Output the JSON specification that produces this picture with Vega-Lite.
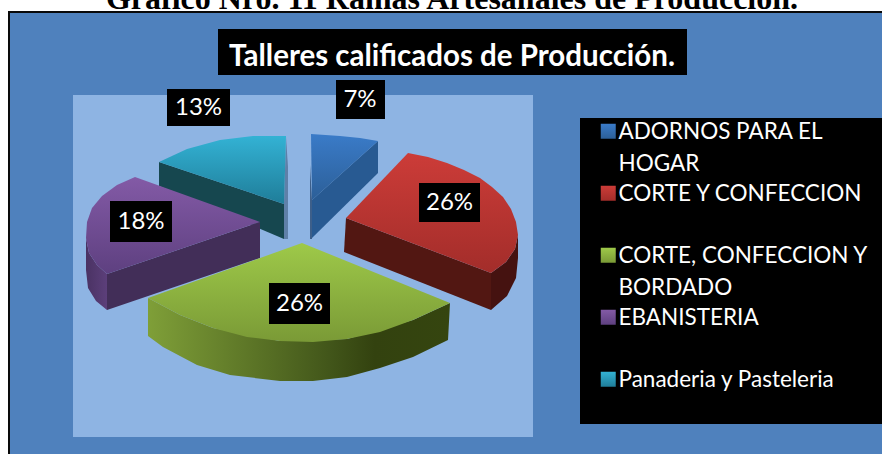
{"$schema":"https://vega.github.io/schema/vega-lite/v6.json","autosize":{"type":"fit","contains":"padding"},"width":882,"height":454,"padding":0,"background":"white","config":{"view":{"stroke":null}},
"resolve":{"scale":{"fill":"independent"}},
"datasets":{
"slices":[
{"categoria":"ADORNOS PARA EL HOGAR","pct":0.07,"lx":360,"ly":100,"x0":336,"x1":385,"y0":80,"y1":119},
{"categoria":"CORTE Y CONFECCION","pct":0.26,"lx":449.5,"ly":203,"x0":419,"x1":480,"y0":183,"y1":222},
{"categoria":"CORTE, CONFECCION Y BORDADO","pct":0.26,"lx":299.5,"ly":304,"x0":269,"x1":330,"y0":283,"y1":324},
{"categoria":"EBANISTERIA","pct":0.18,"lx":141,"ly":222,"x0":110,"x1":172,"y0":201,"y1":242},
{"categoria":"Panaderia y Pasteleria","pct":0.13,"lx":198.5,"ly":108,"x0":167,"x1":230,"y0":89,"y1":126}],
"tops":[
{"c":"ADORNOS PARA EL HOGAR","i":0,"x":311,"y":134},{"c":"ADORNOS PARA EL HOGAR","i":1,"x":340,"y":136},{"c":"ADORNOS PARA EL HOGAR","i":2,"x":360,"y":138},{"c":"ADORNOS PARA EL HOGAR","i":3,"x":378,"y":141},{"c":"ADORNOS PARA EL HOGAR","i":4,"x":312,"y":200},
{"c":"CORTE Y CONFECCION","i":0,"x":408,"y":153},{"c":"CORTE Y CONFECCION","i":1,"x":428,"y":157},{"c":"CORTE Y CONFECCION","i":2,"x":447,"y":163},{"c":"CORTE Y CONFECCION","i":3,"x":464,"y":170},{"c":"CORTE Y CONFECCION","i":4,"x":480,"y":178},{"c":"CORTE Y CONFECCION","i":5,"x":492,"y":187},{"c":"CORTE Y CONFECCION","i":6,"x":503,"y":197},{"c":"CORTE Y CONFECCION","i":7,"x":511,"y":209},{"c":"CORTE Y CONFECCION","i":8,"x":516,"y":222},{"c":"CORTE Y CONFECCION","i":9,"x":518,"y":235},{"c":"CORTE Y CONFECCION","i":10,"x":515,"y":249},{"c":"CORTE Y CONFECCION","i":11,"x":506,"y":262},{"c":"CORTE Y CONFECCION","i":12,"x":491,"y":273},{"c":"CORTE Y CONFECCION","i":13,"x":346,"y":218},
{"c":"CORTE, CONFECCION Y BORDADO","i":0,"x":302,"y":243},{"c":"CORTE, CONFECCION Y BORDADO","i":1,"x":450,"y":303},{"c":"CORTE, CONFECCION Y BORDADO","i":2,"x":413,"y":320},{"c":"CORTE, CONFECCION Y BORDADO","i":3,"x":380,"y":332},{"c":"CORTE, CONFECCION Y BORDADO","i":4,"x":347,"y":339},{"c":"CORTE, CONFECCION Y BORDADO","i":5,"x":313,"y":342},{"c":"CORTE, CONFECCION Y BORDADO","i":6,"x":280,"y":341},{"c":"CORTE, CONFECCION Y BORDADO","i":7,"x":247,"y":337},{"c":"CORTE, CONFECCION Y BORDADO","i":8,"x":213,"y":328},{"c":"CORTE, CONFECCION Y BORDADO","i":9,"x":180,"y":315},{"c":"CORTE, CONFECCION Y BORDADO","i":10,"x":148,"y":298},
{"c":"EBANISTERIA","i":0,"x":135,"y":177},{"c":"EBANISTERIA","i":1,"x":260,"y":222},{"c":"EBANISTERIA","i":2,"x":107,"y":274},{"c":"EBANISTERIA","i":3,"x":97,"y":265},{"c":"EBANISTERIA","i":4,"x":89,"y":253},{"c":"EBANISTERIA","i":5,"x":86,"y":238},{"c":"EBANISTERIA","i":6,"x":87,"y":222},{"c":"EBANISTERIA","i":7,"x":92,"y":208},{"c":"EBANISTERIA","i":8,"x":102,"y":196},{"c":"EBANISTERIA","i":9,"x":117,"y":185},
{"c":"Panaderia y Pasteleria","i":0,"x":159,"y":162},{"c":"Panaderia y Pasteleria","i":1,"x":187,"y":149},{"c":"Panaderia y Pasteleria","i":2,"x":220,"y":140},{"c":"Panaderia y Pasteleria","i":3,"x":253,"y":136},{"c":"Panaderia y Pasteleria","i":4,"x":286,"y":136},{"c":"Panaderia y Pasteleria","i":5,"x":284,"y":204}],
"sides":[
{"p":"cs","i":0,"x":286,"y":137},{"p":"cs","i":1,"x":288,"y":167},{"p":"cs","i":2,"x":288,"y":239},{"p":"cs","i":3,"x":284,"y":239},{"p":"cs","i":4,"x":284,"y":204},
{"p":"bs","i":0,"x":310,"y":165},{"p":"bs","i":1,"x":312,"y":200},{"p":"bs","i":2,"x":312,"y":239},{"p":"bs","i":3,"x":310,"y":239},
{"p":"c","i":0,"x":159,"y":162},{"p":"c","i":1,"x":284,"y":204},{"p":"c","i":2,"x":284,"y":239},{"p":"c","i":3,"x":159,"y":186},
{"p":"b","i":0,"x":312,"y":200},{"p":"b","i":1,"x":378,"y":141},{"p":"b","i":2,"x":378,"y":173},{"p":"b","i":3,"x":312,"y":238},
{"p":"r","i":0,"x":346,"y":218},{"p":"r","i":1,"x":491,"y":273},{"p":"r","i":2,"x":491,"y":310},{"p":"r","i":3,"x":344,"y":252},
{"p":"ro","i":0,"x":491,"y":273},{"p":"ro","i":1,"x":506,"y":262},{"p":"ro","i":2,"x":515,"y":249},{"p":"ro","i":3,"x":518,"y":235},{"p":"ro","i":4,"x":518,"y":258},{"p":"ro","i":5,"x":516,"y":278},{"p":"ro","i":6,"x":507,"y":296},{"p":"ro","i":7,"x":491,"y":310},
{"p":"p","i":0,"x":107,"y":274},{"p":"p","i":1,"x":260,"y":222},{"p":"p","i":2,"x":260,"y":258},{"p":"p","i":3,"x":107,"y":310},
{"p":"po","i":0,"x":86,"y":238},{"p":"po","i":1,"x":89,"y":253},{"p":"po","i":2,"x":97,"y":265},{"p":"po","i":3,"x":107,"y":274},{"p":"po","i":4,"x":107,"y":310},{"p":"po","i":5,"x":96,"y":301},{"p":"po","i":6,"x":88,"y":288},{"p":"po","i":7,"x":86,"y":270},
{"p":"g","i":0,"x":148,"y":298},{"p":"g","i":1,"x":180,"y":315},{"p":"g","i":2,"x":213,"y":328},{"p":"g","i":3,"x":280,"y":341},{"p":"g","i":4,"x":347,"y":339},{"p":"g","i":5,"x":413,"y":320},{"p":"g","i":6,"x":450,"y":303},{"p":"g","i":7,"x":448,"y":340},{"p":"g","i":8,"x":413,"y":357},{"p":"g","i":9,"x":380,"y":368},{"p":"g","i":10,"x":347,"y":377},{"p":"g","i":11,"x":313,"y":381},{"p":"g","i":12,"x":280,"y":381},{"p":"g","i":13,"x":230,"y":375},{"p":"g","i":14,"x":197,"y":365},{"p":"g","i":15,"x":163,"y":347},{"p":"g","i":16,"x":148,"y":336}]
},
"data":{"name":"slices"},
"layer":[
{"data":{"values":[{"a":8,"b":882,"c":11,"d":454}]},"mark":{"type":"rect","fill":"#0a0a0a"},"encoding":{"x":{"field":"a","type":"quantitative","scale":{"domain":[0,882],"nice":false,"zero":false},"axis":null},"x2":{"field":"b"},"y":{"field":"c","type":"quantitative","scale":{"domain":[454,0],"nice":false,"zero":false},"axis":null},"y2":{"field":"d"}}},
{"data":{"values":[{"a":10,"b":882,"c":13,"d":454}]},"mark":{"type":"rect","fill":"#4f81bd"},"encoding":{"x":{"field":"a","type":"quantitative","axis":null},"x2":{"field":"b"},"y":{"field":"c","type":"quantitative","axis":null},"y2":{"field":"d"}}},
{"data":{"values":[{"a":73,"b":533,"c":95,"d":437}]},"mark":{"type":"rect","fill":"#8eb4e3"},"encoding":{"x":{"field":"a","type":"quantitative","axis":null},"x2":{"field":"b"},"y":{"field":"c","type":"quantitative","axis":null},"y2":{"field":"d"}}},
{"data":{"values":[{"a":218,"b":687,"c":29,"d":75},{"a":580,"b":882,"c":118,"d":424}]},"mark":{"type":"rect","fill":"#000000"},"encoding":{"x":{"field":"a","type":"quantitative","axis":null},"x2":{"field":"b"},"y":{"field":"c","type":"quantitative","axis":null},"y2":{"field":"d"}}},
{"data":{"values":[{"t":"Gráfico Nro. 11 Ramas Artesanales de Producción.","x":452,"y":9}]},"mark":{"type":"text","font":"Liberation Serif","fontWeight":"bold","fontSize":32,"fill":"#000000","align":"center","baseline":"alphabetic","clip":true},"encoding":{"x":{"field":"x","type":"quantitative","axis":null},"y":{"field":"y","type":"quantitative","axis":null},"text":{"field":"t"}}},
{"data":{"values":[{"t":"Talleres calificados de Producción.","x":452,"y":57}]},"mark":{"type":"text","font":"Lato","fontWeight":"bold","fontSize":29.5,"fill":"#ffffff","align":"center","baseline":"middle"},"encoding":{"x":{"field":"x","type":"quantitative","axis":null},"y":{"field":"y","type":"quantitative","axis":null},"text":{"field":"t"}}},
{"data":{"name":"sides"},"mark":{"type":"line","strokeWidth":0},"encoding":{"x":{"field":"x","type":"quantitative","axis":null},"y":{"field":"y","type":"quantitative","axis":null},"order":{"field":"i"},"fill":{"field":"p","type":"nominal","legend":null,"scale":{"domain":["cs","bs","c","b","r","ro","p","po","g"],"range":["#5f80a8","#3d5f8a","#16474f","#285a92","#521712","#451210","#422e58",{"signal":"{gradient:'linear',x1:0,y1:0,x2:1,y2:0,stops:[{offset:0,color:'#4a3263'},{offset:1,color:'#5c3f7a'}]}"},{"signal":"{gradient:'linear',x1:0,y1:0,x2:1,y2:0,stops:[{offset:0,color:'#7f9f38'},{offset:0.6,color:'#42561a'},{offset:0.75,color:'#33420f'},{offset:1,color:'#35450f'}]}"}]}}}},
{"data":{"name":"tops"},"mark":{"type":"line","strokeWidth":0},"encoding":{"x":{"field":"x","type":"quantitative","axis":null},"y":{"field":"y","type":"quantitative","axis":null},"order":{"field":"i"},"fill":{"field":"c","type":"nominal","scale":{"domain":["ADORNOS PARA EL HOGAR","CORTE Y CONFECCION","CORTE, CONFECCION Y BORDADO","EBANISTERIA","Panaderia y Pasteleria"],"range":[{"signal":"{gradient:'linear',x1:0,y1:0,x2:0,y2:1,stops:[{offset:0,color:'#3a7bc8'},{offset:1,color:'#2c5f98'}]}"},{"signal":"{gradient:'linear',x1:0,y1:0,x2:0,y2:1,stops:[{offset:0,color:'#cc3c38'},{offset:1,color:'#a32d2a'}]}"},{"signal":"{gradient:'linear',x1:0,y1:0,x2:0,y2:1,stops:[{offset:0,color:'#9ec949'},{offset:1,color:'#7a9a36'}]}"},{"signal":"{gradient:'linear',x1:0,y1:0,x2:0,y2:1,stops:[{offset:0,color:'#835aa6'},{offset:1,color:'#5e4080'}]}"},{"signal":"{gradient:'linear',x1:0,y1:0,x2:0,y2:1,stops:[{offset:0,color:'#33b2d4'},{offset:1,color:'#1f7d99'}]}"}]},"legend":{"title":null,"orient":"none","legendX":597,"legendY":120,"padding":0,"symbolType":"square","symbolSize":225,"symbolStrokeWidth":0,"labelFont":"Lato","labelFontSize":22.5,"labelColor":"#ffffff","labelLimit":290,"labelOffset":-1,"labelBaseline":"top","gridAlign":"all","rowPadding":6,"labelExpr":"datum.label=='ADORNOS PARA EL HOGAR'?['ADORNOS PARA EL','HOGAR']:datum.label=='CORTE, CONFECCION Y BORDADO'?['CORTE, CONFECCION Y','BORDADO']:datum.label","encoding":{"labels":{"dy":{"value":-10},"lineHeight":{"value":32}}}}}}},
{"mark":{"type":"rect","fill":"#000000"},"encoding":{"x":{"field":"x0","type":"quantitative","axis":null},"x2":{"field":"x1"},"y":{"field":"y0","type":"quantitative","axis":null},"y2":{"field":"y1"}}},
{"mark":{"type":"text","font":"Lato","fontSize":24,"fill":"#ffffff","align":"center","baseline":"middle"},"encoding":{"x":{"field":"lx","type":"quantitative","axis":null},"y":{"field":"ly","type":"quantitative","axis":null},"text":{"field":"pct","type":"quantitative","format":".0%"}}}
]}
